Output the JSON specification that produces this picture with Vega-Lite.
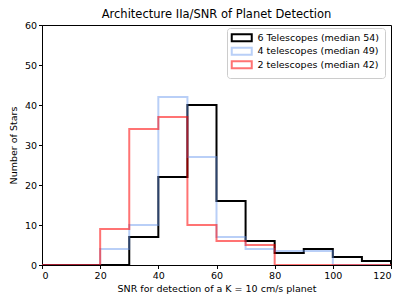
{
  "$schema": "https://vega.github.io/schema/vega-lite/v6.json",
  "autosize": {"type": "none"},
  "padding": {"left": 42, "top": 25, "right": 16, "bottom": 40},
  "width": 349,
  "height": 240,
  "background": "white",
  "title": {"text": "Architecture IIa/SNR of Planet Detection", "font": "DejaVu Sans", "fontSize": 11.5, "fontWeight": "normal", "color": "black", "offset": 0, "anchor": "middle"},
  "config": {
    "view": {"stroke": "black", "strokeWidth": 1},
    "axis": {"labelFont": "DejaVu Sans", "titleFont": "DejaVu Sans", "labelFontSize": 9.5, "titleFontSize": 9.5, "titleFontWeight": "normal", "labelColor": "black", "titleColor": "black", "domainColor": "black", "tickColor": "black", "tickSize": 3.5, "grid": false, "labelPadding": 2}
  },
  "data": {"values": [
    {"s": "6 Telescopes (median 54)", "x": 0, "y": 0},
    {"s": "6 Telescopes (median 54)", "x": 10, "y": 0},
    {"s": "6 Telescopes (median 54)", "x": 20, "y": 0},
    {"s": "6 Telescopes (median 54)", "x": 30, "y": 7},
    {"s": "6 Telescopes (median 54)", "x": 40, "y": 22},
    {"s": "6 Telescopes (median 54)", "x": 50, "y": 40},
    {"s": "6 Telescopes (median 54)", "x": 60, "y": 16},
    {"s": "6 Telescopes (median 54)", "x": 70, "y": 6},
    {"s": "6 Telescopes (median 54)", "x": 80, "y": 3},
    {"s": "6 Telescopes (median 54)", "x": 90, "y": 4},
    {"s": "6 Telescopes (median 54)", "x": 100, "y": 2},
    {"s": "6 Telescopes (median 54)", "x": 110, "y": 1},
    {"s": "6 Telescopes (median 54)", "x": 120, "y": 0},
    {"s": "4 telescopes (median 49)", "x": 0, "y": 0},
    {"s": "4 telescopes (median 49)", "x": 10, "y": 0},
    {"s": "4 telescopes (median 49)", "x": 20, "y": 4},
    {"s": "4 telescopes (median 49)", "x": 30, "y": 10},
    {"s": "4 telescopes (median 49)", "x": 40, "y": 42},
    {"s": "4 telescopes (median 49)", "x": 50, "y": 27},
    {"s": "4 telescopes (median 49)", "x": 60, "y": 7},
    {"s": "4 telescopes (median 49)", "x": 70, "y": 4},
    {"s": "4 telescopes (median 49)", "x": 80, "y": 3.5},
    {"s": "4 telescopes (median 49)", "x": 90, "y": 3.5},
    {"s": "4 telescopes (median 49)", "x": 100, "y": 0},
    {"s": "4 telescopes (median 49)", "x": 110, "y": 0},
    {"s": "4 telescopes (median 49)", "x": 120, "y": 0},
    {"s": "2 telescopes (median 42)", "x": 0, "y": 0},
    {"s": "2 telescopes (median 42)", "x": 10, "y": 0},
    {"s": "2 telescopes (median 42)", "x": 20, "y": 9},
    {"s": "2 telescopes (median 42)", "x": 30, "y": 34},
    {"s": "2 telescopes (median 42)", "x": 40, "y": 37},
    {"s": "2 telescopes (median 42)", "x": 50, "y": 10},
    {"s": "2 telescopes (median 42)", "x": 60, "y": 6},
    {"s": "2 telescopes (median 42)", "x": 70, "y": 5},
    {"s": "2 telescopes (median 42)", "x": 80, "y": 0},
    {"s": "2 telescopes (median 42)", "x": 90, "y": 0},
    {"s": "2 telescopes (median 42)", "x": 100, "y": 0},
    {"s": "2 telescopes (median 42)", "x": 110, "y": 0},
    {"s": "2 telescopes (median 42)", "x": 120, "y": 0}
  ]},
  "mark": {"type": "line", "interpolate": "step-after", "strokeWidth": 2, "clip": true},
  "encoding": {
    "x": {"field": "x", "type": "quantitative", "scale": {"domain": [0, 120], "nice": false}, "axis": {"values": [0, 20, 40, 60, 80, 100, 120], "title": "SNR for detection of a K = 10 cm/s planet", "titlePadding": 3}},
    "y": {"field": "y", "type": "quantitative", "scale": {"domain": [0, 60], "nice": false}, "axis": {"values": [0, 10, 20, 30, 40, 50, 60], "title": "Number of Stars", "titlePadding": 6}},
    "color": {"field": "s", "type": "nominal",
      "scale": {"domain": ["6 Telescopes (median 54)", "4 telescopes (median 49)", "2 telescopes (median 42)"], "range": ["black", "rgba(100,149,237,0.45)", "rgba(255,0,0,0.55)"]},
      "legend": {"title": null, "orient": "none", "legendX": 185, "legendY": 3, "symbolType": "M-2,-1.4H6V1.4H-2Z", "symbolSize": 25, "symbolStrokeWidth": 2, "symbolFillColor": "transparent", "labelFont": "DejaVu Sans", "labelFontSize": 9.5, "labelColor": "black", "labelOffset": 16, "rowPadding": -2.5, "padding": 5, "offset": 0, "strokeColor": "#cccccc", "fillColor": "white", "cornerRadius": 3}
    }
  }
}
